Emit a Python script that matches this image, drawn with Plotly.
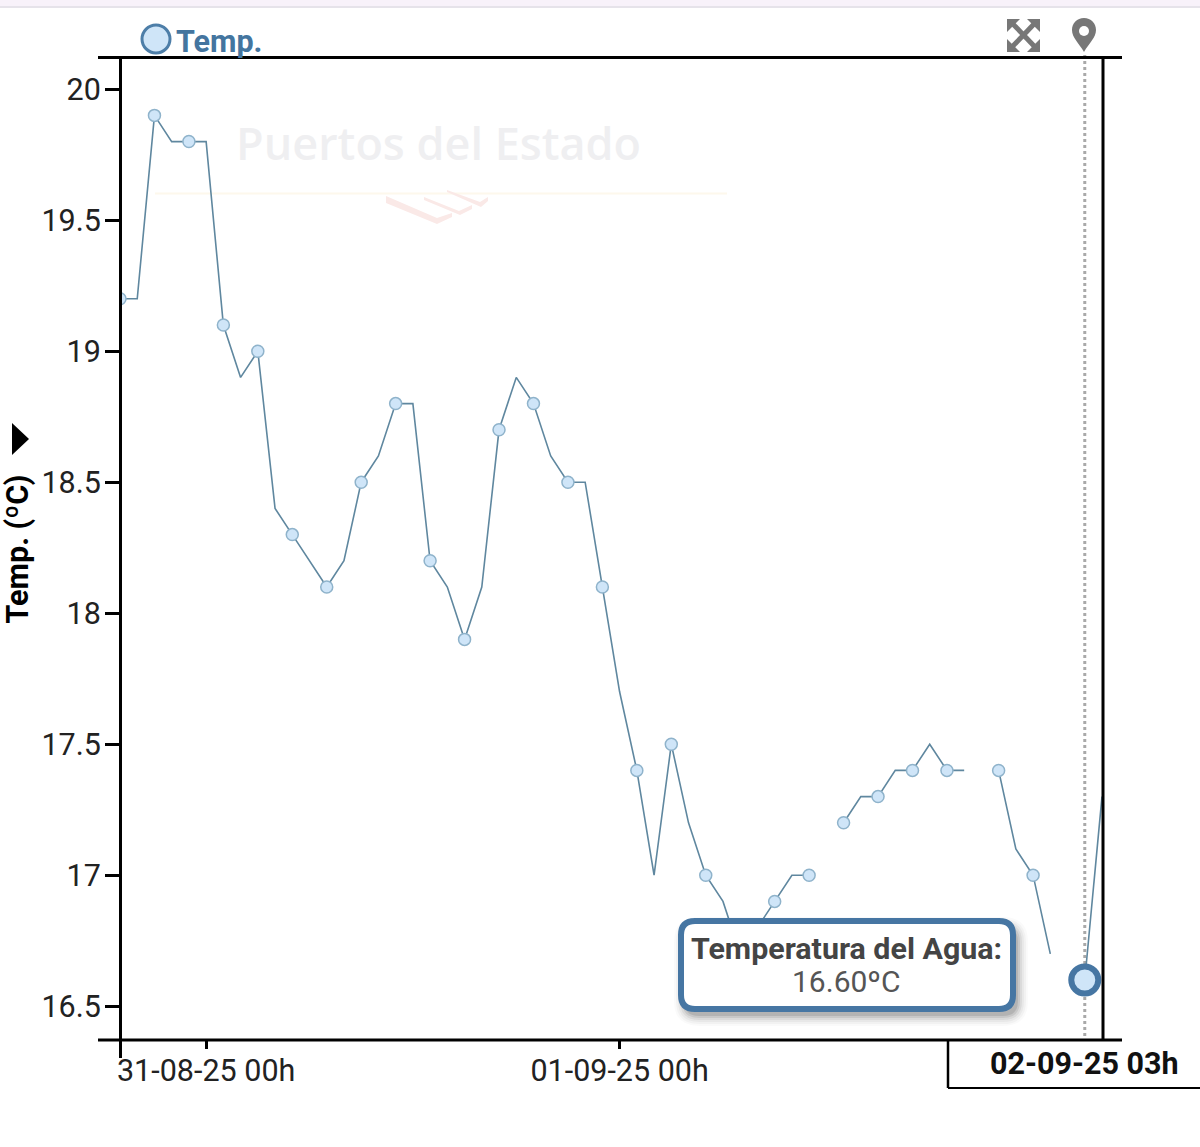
import pandas as pd
import plotly.graph_objects as go

START = "2025-08-30 19:00"
temps = [19.2, 19.2, 19.9, 19.8, 19.8, 19.8, 19.1, 18.9, 19.0, 18.4,
         18.3, 18.2, 18.1, 18.2, 18.5, 18.6, 18.8, 18.8, 18.2, 18.1,
         17.9, 18.1, 18.7, 18.9, 18.8, 18.6, 18.5, 18.5, 18.1, 17.7,
         17.4, 17.0, 17.5, 17.2, 17.0, 16.9, 16.7, 16.8, 16.9, 17.0,
         17.0, None, 17.2, 17.3, 17.3, 17.4, 17.4, 17.5, 17.4, 17.4,
         None, 17.4, 17.1, 17.0, 16.7, None, 16.6, 17.3]
marker_idx = [0, 2, 4, 6, 8, 10, 12, 14, 16, 18, 20, 22, 24, 26, 28, 30, 32, 34, 36, 38,
              40, 42, 44, 46, 48, 51, 53]
current_idx = 56
x_ticks = ["2025-08-31 00:00", "2025-09-01 00:00"]
x_tick_labels = ["31-08-25 00h", "01-09-25 00h"]
y_ticks = [16.5, 17, 17.5, 18, 18.5, 19, 19.5, 20]
y_tick_labels = ["16.5", "17", "17.5", "18", "18.5", "19", "19.5", "20"]

times = list(pd.date_range(START, periods=len(temps), freq="h"))
W, H = 1200, 1147
L, R, T, B = 120, 1102, 58, 1040
LINE = "#5f879f"
BLUE = "#4676a3"
FILL = "#cfe5f8"
FS = 30.5


def px(x):
    return (x - L) / (R - L)


def py(y):
    return (B - y) / (B - T)


def P(x, y):
    return f"{px(x):.5f},{py(y):.5f}"


def poly(points):
    return "M " + " L ".join(P(x, y) for x, y in points) + " Z"


def rrect(x0, y0, x1, y1, r):
    return (f"M {P(x0 + r, y0)} L {P(x1 - r, y0)} Q {P(x1, y0)} {P(x1, y0 + r)} "
            f"L {P(x1, y1 - r)} Q {P(x1, y1)} {P(x1 - r, y1)} "
            f"L {P(x0 + r, y1)} Q {P(x0, y1)} {P(x0, y1 - r)} "
            f"L {P(x0, y0 + r)} Q {P(x0, y0)} {P(x0 + r, y0)} Z")


def shape_path(path, fill, line=None, lw=0, layer="above"):
    return dict(type="path", xref="paper", yref="paper", path=path, fillcolor=fill,
                line=dict(color=line or fill, width=lw), layer=layer)


def seg(x0, y0, x1, y1, color="#000", w=3, layer="above", dash=None):
    return dict(type="line", xref="paper", yref="paper", x0=px(x0), y0=py(y0), x1=px(x1), y1=py(y1),
                line=dict(color=color, width=w, dash=dash), layer=layer)


def box(x0, y0, x1, y1, color, layer="above"):
    return dict(type="rect", xref="paper", yref="paper", x0=px(x0), y0=py(y0), x1=px(x1), y1=py(y1),
                fillcolor=color, line=dict(width=0), layer=layer)


def label(text, x, y, size, color, family="Roboto", xanchor="center", weight=None, xref="paper"):
    font = dict(family=family, size=size, color=color)
    if weight:
        font["weight"] = weight
    return dict(text=text, xref=xref, yref="paper", x=x if xref != "paper" else px(x), y=py(y),
                xanchor=xanchor, yanchor="middle", showarrow=False, font=font, borderpad=0)


shapes = [
    box(0, 0, 1200, 7, "#f8f2fa"),
    box(0, 6, 1200, 8, "#e6e3ea"),
    # watermark
    seg(155, 193.5, 727, 193.5, "#fdf8ec", 2, "below"),
    shape_path(poly([(386, 196), (437, 218), (452, 213), (452, 217), (437, 224), (386, 203)]), "#fae9e7", layer="below"),
    shape_path(poly([(424, 197), (459, 211), (472, 205), (472, 209), (460, 215), (424, 200)]), "#fae9e7", layer="below"),
    shape_path(poly([(447, 190), (480, 202), (488, 197), (488, 201), (481, 207), (447, 192)]), "#fae9e7", layer="below"),
    # cursor
    dict(type="line", xref="x", yref="paper", x0=times[current_idx], x1=times[current_idx],
         y0=py(1036), y1=py(52), line=dict(color="#a9a9a9", width=3, dash="dot"), layer="below"),
    # frame
    seg(98, 57.5, 1122, 57.5),
    seg(98, 1040, 1122, 1040),
    seg(120.5, 57, 120.5, 1058),
    seg(1103, 57, 1103, 1040),
    seg(948, 1040, 948, 1088, w=2.5),
    seg(948, 1088, 1200, 1088, w=2),
    # y-title arrow
    shape_path(poly([(12, 423), (29, 439), (12, 455)]), "#000"),
    # legend dot
    dict(type="circle", xref="paper", yref="paper", x0=px(142), x1=px(170), y0=py(25), y1=py(53),
         fillcolor=FILL, line=dict(color="#4d7ea8", width=3), layer="above"),
    # pin
    shape_path(f"M {P(1084, 52)} C {P(1079, 43)} {P(1072, 38)} {P(1072, 30)} "
               f"C {P(1072, 23)} {P(1077, 18)} {P(1084, 18)} C {P(1091, 18)} {P(1096, 23)} {P(1096, 30)} "
               f"C {P(1096, 38)} {P(1089, 43)} {P(1084, 52)} Z", "#777777"),
    dict(type="circle", xref="paper", yref="paper", x0=px(1079), x1=px(1089), y0=py(26), y1=py(36),
         fillcolor="#ffffff", line=dict(width=0), layer="above"),
    # expand icon
    seg(1012, 23, 1035, 47, "#777777", 5),
    seg(1035, 23, 1012, 47, "#777777", 5),
    shape_path(poly([(1007, 19), (1020, 19), (1007, 32)]), "#777777"),
    shape_path(poly([(1040, 19), (1027, 19), (1040, 32)]), "#777777"),
    shape_path(poly([(1007, 52), (1020, 52), (1007, 39)]), "#777777"),
    shape_path(poly([(1040, 52), (1027, 52), (1040, 39)]), "#777777"),
]
# tooltip shadow then body
for grow, alpha in [(11, 0.02), (9, 0.03), (7, 0.04), (5, 0.06), (3, 0.08), (1, 0.10)]:
    shapes.append(shape_path(rrect(681 + 4 - grow, 922 + 6 - grow, 1013 + 4 + grow, 1009 + 6 + grow, 14 + grow),
                             f"rgba(0,0,0,{alpha})"))
shapes.append(shape_path(rrect(681, 921, 1013, 1009, 14), "#ffffff", BLUE, 6))

annotations = [
    label("Puertos del Estado", 438, 142, 45, "#efeff1", family="Open Sans", weight=600),
    label("<b>Temp.</b>", 175, 42, FS, "#44759f", xanchor="left"),
    label("<b>Temperatura del Agua:</b>", 846, 948, 30.4, "#444444"),
    label("16.60ºC", 846, 981, 30, "#555555"),
    label("<b>02-09-25 03h</b>", times[current_idx], 1063, FS, "#111111", xref="x"),
]

fig = go.Figure()
fig.add_trace(go.Scatter(x=times, y=temps, mode="lines", connectgaps=False,
                         line=dict(color=LINE, width=1.6), showlegend=False, hoverinfo="skip"))
fig.add_trace(go.Scatter(x=[times[i] for i in marker_idx], y=[temps[i] for i in marker_idx],
                         mode="markers", showlegend=False,
                         marker=dict(size=12, color=FILL, line=dict(color="#8fb3cb", width=1.5))))
fig.add_trace(go.Scatter(x=[times[current_idx]], y=[temps[current_idx]], mode="markers", showlegend=False,
                         marker=dict(size=27, color=FILL, line=dict(color=BLUE, width=6))))

fig.update_layout(
    width=W, height=H, autosize=False,
    margin=dict(l=L, r=W - R, t=T, b=H - B),
    paper_bgcolor="#ffffff", plot_bgcolor="#ffffff",
    font=dict(family="Roboto", size=FS, color="#222222"),
    shapes=shapes, annotations=annotations,
    xaxis=dict(type="date", range=[times[0], times[-1]], tickvals=x_ticks, ticktext=x_tick_labels,
               ticks="outside", ticklen=8, tickwidth=3, tickcolor="#000", showgrid=False, zeroline=False,
               showline=False, tickangle=0, automargin=False, ticklabelstandoff=-5,
               tickfont=dict(family="Roboto", size=FS, color="#222222")),
    yaxis=dict(range=[16.371, 20.119], tickvals=y_ticks, ticktext=y_tick_labels,
               ticks="outside", ticklen=14, tickwidth=3, tickcolor="#000", showgrid=False, zeroline=False,
               showline=False, automargin=False, ticklabelstandoff=-2,
               tickfont=dict(family="Roboto", size=FS, color="#222222"),
               title=dict(text="<b>Temp. (ºC)</b>", standoff=8,
                          font=dict(family="Roboto", size=FS, color="#000000"))),
)

fig.write_html("out.html", config={"displayModeBar": False},
               post_script="document.body.style.margin='0';document.body.style.overflow='hidden';")
